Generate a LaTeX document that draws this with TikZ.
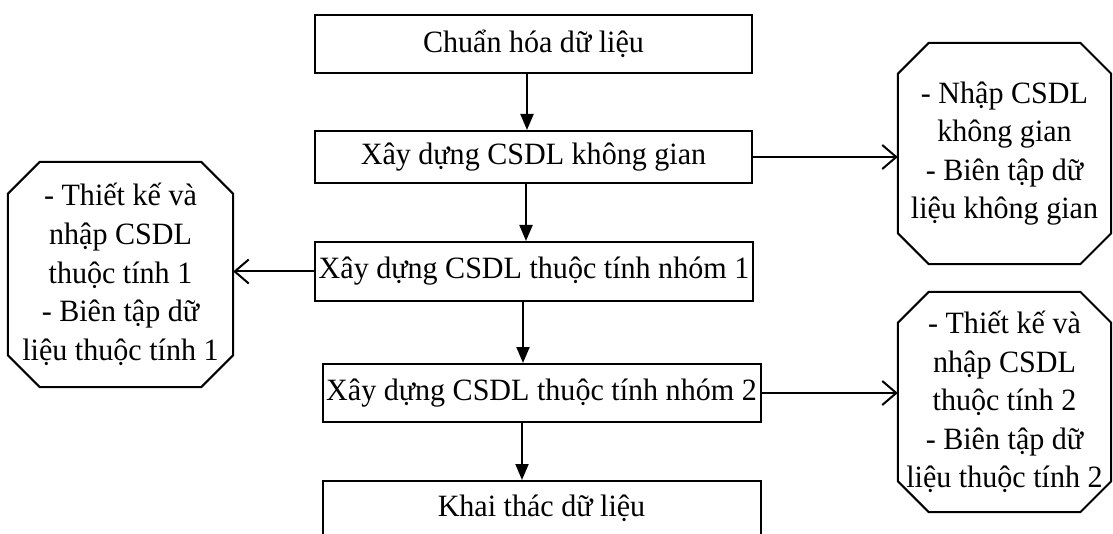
\documentclass[tikz,border=0pt]{standalone}
\usepackage{fontspec}
\setmainfont{Liberation Serif}[FakeStretch=0.97]
\usetikzlibrary{arrows.meta}
\newcommand\chamfbox[2]{\draw[line width=2pt, line join=miter] ([xshift=#2]#1.north west) -- ([xshift=-#2]#1.north east) -- ([yshift=-#2]#1.north east) -- ([yshift=#2]#1.south east) -- ([xshift=-#2]#1.south east) -- ([xshift=#2]#1.south west) -- ([yshift=#2]#1.south west) -- ([yshift=-#2]#1.north west) -- cycle;}
\begin{document}
\begin{tikzpicture}[x=1pt,y=-1pt,
  every node/.style={font=\fontsize{31}{38.6}\selectfont, inner sep=0pt},
  stepbox/.style={draw, line width=2pt, rectangle, minimum width=437pt, align=center},
  octbox/.style={rectangle, align=center},
  va/.style={line width=2pt, -{Triangle[length=16pt,width=13pt]}},
  ha/.style={line width=2pt, -{Straight Barb[length=14pt,width=24pt,line width=2pt]}}]
\useasboundingbox (0,0) rectangle (1113,534);
\node[stepbox, minimum height=58pt] (b1) at (533.5,44) {Chuẩn hóa dữ liệu};
\node[stepbox, minimum height=52pt] (b2) at (533.5,157) {Xây dựng CSDL không gian};
\node[stepbox, minimum width=438pt, minimum height=59pt] (b3) at (534,271.5) {Xây dựng CSDL thuộc tính nhóm 1};
\node[stepbox, minimum width=438pt, minimum height=58pt] (b4) at (541.5,393) {Xây dựng CSDL thuộc tính nhóm 2};
\node[stepbox, minimum width=438pt, minimum height=60pt, anchor=north] (b5) at (541.5,480) {\raisebox{10pt}{Khai thác dữ liệu}};
\node[octbox, minimum width=225pt, minimum height=225pt] (o1) at (120.5,274.5)
  {- Thiết kế và\\ nhập CSDL\\ thuộc tính 1\\ - Biên tập dữ\\ liệu thuộc tính 1};
\node[octbox, minimum width=213pt, minimum height=221pt] (o2) at (1004.5,153.5)
  {- Nhập CSDL\\ không gian\\ - Biên tập dữ\\ liệu không gian};
\node[octbox, minimum width=213pt, minimum height=220pt] (o3) at (1004.5,402)
  {- Thiết kế và\\ nhập CSDL\\ thuộc tính 2\\ - Biên tập dữ\\ liệu thuộc tính 2};
\chamfbox{o1}{32pt}
\chamfbox{o2}{31pt}
\chamfbox{o3}{31pt}
\coordinate (c1) at (527,0);
\coordinate (c2) at (526,0);
\coordinate (c3) at (523,0);
\coordinate (c4) at (522,0);
\draw[va] (b1.south -| c1) -- (b2.north -| c1);
\draw[va] (b2.south -| c2) -- (b3.north -| c2);
\draw[va] (b3.south -| c3) -- (b4.north -| c3);
\draw[va] (b4.south -| c4) -- (b5.north -| c4);
\draw[ha] (b2.east) -- (b2.east -| o2.west);
\draw[ha] (b3.west) -- (b3.west -| o1.east);
\draw[ha] (b4.east) -- (b4.east -| o3.west);
\end{tikzpicture}
\end{document}
